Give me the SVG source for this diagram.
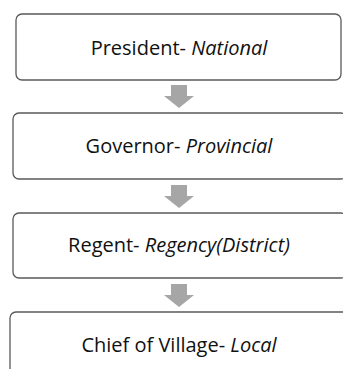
<svg xmlns="http://www.w3.org/2000/svg" width="343" height="369" viewBox="0 0 343 369">
<style>
.box{fill:#fff;stroke:#595959;stroke-width:1.3}
.t{font-family:"Open Sans","Liberation Sans",sans-serif;font-size:20px;fill:#111;text-anchor:middle}
.i{font-style:italic}
.arr{fill:#a6a6a6}
</style>
<rect width="343" height="369" fill="#fff"/>
<g id="connectors">
<path class="arr" d="M171,85 H187 V96 H194 L179,108 L164,96 H171 Z"/>
<path class="arr" d="M171,185 H187 V196 H194 L179,208 L164,196 H171 Z"/>
<path class="arr" d="M171,284 H187 V295 H194 L179,307 L164,295 H171 Z"/>
</g>
<g id="n1"><rect class="box" x="16" y="14" width="325" height="66" rx="6"/><text class="t" x="179" y="55">President- <tspan class="i">National</tspan></text></g>
<g id="n2"><rect class="box" x="13" y="113" width="334" height="66" rx="6"/><text class="t" x="179" y="153">Governor- <tspan class="i">Provincial</tspan></text></g>
<g id="n3"><rect class="box" x="13" y="213" width="334" height="65" rx="6"/><text class="t" x="179" y="252">Regent- <tspan class="i">Regency(District)</tspan></text></g>
<g id="n4"><rect class="box" x="10" y="312" width="340" height="66" rx="6"/><text class="t" x="179" y="352">Chief of Village- <tspan class="i">Local</tspan></text></g>
</svg>
